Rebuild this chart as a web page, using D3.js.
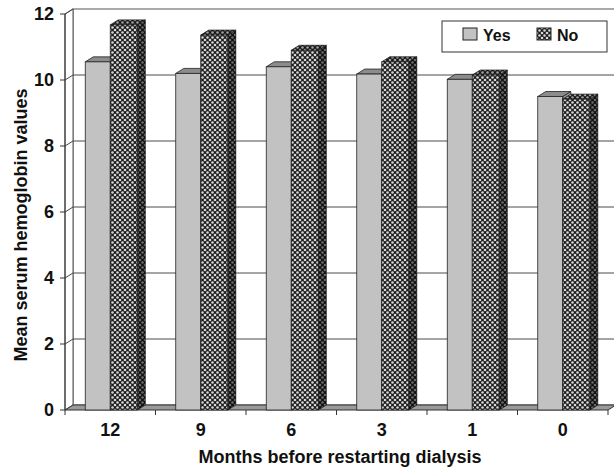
<!DOCTYPE html>
<html>
<head>
<meta charset="utf-8">
<script src="https://cdn.jsdelivr.net/npm/d3@7"></script>
<style>
  body { margin: 0; background: #fff; }
  text { font-family: Arial, "Liberation Sans", sans-serif; font-weight: bold; fill: #111; }
</style>
</head>
<body>
<svg id="chart" width="614" height="469"></svg>
<script>
const categories = ['12', '9', '6', '3', '1', '0']
const yesValues = [10.55, 10.2, 10.4, 10.18, 10.02, 9.5]
const noValues = [11.67, 11.36, 10.9, 10.55, 10.15, 9.42]
const yTicks = [0, 2, 4, 6, 8, 10, 12]
const seriesNames = ['Yes', 'No']

const svg = d3.select('#chart')

// depth offset of the 3d box
var dx = 8,
    dy = -5

const x = d3.scaleBand().domain(categories).range([65, 608])
const y = d3.scaleLinear().domain([0, 12]).range([410, 14])

const defs = svg.append('defs')
const pat = defs.append('pattern')
    .attr('id', 'mesh')
    .attr('patternUnits', 'userSpaceOnUse')
    .attr('width', 5)
    .attr('height', 5)
pat.append('rect').attr('width', 5).attr('height', 5).attr('fill', '#1c1c1c')
pat.selectAll('circle')
    .data([[2.5, 2.5], [0, 0], [5, 0], [0, 5], [5, 5]])
    .enter()
    .append('circle')
    .attr('cx', d => d[0])
    .attr('cy', d => d[1])
    .attr('r', 1.3)
    .attr('fill', '#d8d8d8')

const line = d3.line()

// back wall
svg.append('rect')
    .attr('x', x.range()[0] + dx)
    .attr('y', y(12) + dy)
    .attr('width', 620 - (x.range()[0] + dx))
    .attr('height', y(0) - y(12))
    .attr('fill', '#fff')
    .attr('stroke', '#555')

svg.selectAll('.grid')
    .data(yTicks.slice(1, -1))
    .enter()
    .append('line')
    .attr('class', 'grid')
    .attr('x1', x.range()[0] + dx)
    .attr('x2', 620)
    .attr('y1', d => y(d) + dy)
    .attr('y2', d => y(d) + dy)
    .attr('stroke', '#4a4a4a')
    .attr('stroke-width', 1)

// side wall
svg.append('path')
    .attr('d', line([[65, y(12)], [65 + dx, y(12) + dy], [65 + dx, y(0) + dy], [65, y(0)]]) + 'Z')
    .attr('fill', '#fff')
    .attr('stroke', '#555')

svg.selectAll('.ytick')
    .data(yTicks)
    .enter()
    .append('line')
    .attr('class', 'ytick')
    .attr('x1', 60)
    .attr('x2', 65)
    .attr('y1', d => y(d))
    .attr('y2', d => y(d))
    .attr('stroke', '#333')

svg.selectAll('.diag')
    .data(yTicks.slice(1))
    .enter()
    .append('line')
    .attr('class', 'diag')
    .attr('x1', 65)
    .attr('x2', 65 + dx)
    .attr('y1', d => y(d))
    .attr('y2', d => y(d) + dy)
    .attr('stroke', '#444')

// floor
svg.append('path')
    .attr('d', line([[65, y(0)], [65 + dx, y(0) + dy], [608 + dx, y(0) + dy], [608, y(0)]]) + 'Z')
    .attr('fill', '#9a9a9a')
    .attr('stroke', '#333')

svg.selectAll('.xtick')
    .data(d3.range(categories.length + 1))
    .enter()
    .append('line')
    .attr('class', 'xtick')
    .attr('x1', i => 65 + i * x.step())
    .attr('x2', i => 65 + i * x.step())
    .attr('y1', y(0))
    .attr('y2', y(0) + 5)
    .attr('stroke', '#333')

svg.append('line')
    .attr('x1', 65).attr('x2', 65)
    .attr('y1', y(12)).attr('y2', y(0))
    .attr('stroke', '#333')

// bars
const bars = []
categories.forEach((c, i) => {
    const cx = x(c) + x.bandwidth() / 2
    bars.push({ cat: c, s: 'Yes', v: yesValues[i], x0: cx - 25, x1: cx })
    bars.push({ cat: c, s: 'No', v: noValues[i], x0: cx, x1: cx + 27 })
})

const fills = {
    Yes: { front: '#c2c2c2', top: '#8c8c8c', side: '#9e9e9e' },
    No: { front: 'url(#mesh)', top: 'url(#mesh)', side: 'url(#mesh)' }
}

const g = svg.selectAll('.bar')
    .data(bars)
    .enter()
    .append('g')
    .attr('class', 'bar')

g.append('path')
    .attr('d', d => line([[d.x1, y(d.v)], [d.x1 + dx, y(d.v) + dy], [d.x1 + dx, y(0) + dy], [d.x1, y(0)]]) + 'Z')
    .attr('fill', d => fills[d.s].side)
    .attr('stroke', '#222')
    .attr('stroke-width', 0.8)
g.filter(d => d.s == 'No').append('path')
    .attr('d', d => line([[d.x1, y(d.v)], [d.x1 + dx, y(d.v) + dy], [d.x1 + dx, y(0) + dy], [d.x1, y(0)]]) + 'Z')
    .attr('fill', 'rgba(0,0,0,0.5)')

g.append('path')
    .attr('d', d => line([[d.x0, y(d.v)], [d.x0 + dx, y(d.v) + dy], [d.x1 + dx, y(d.v) + dy], [d.x1, y(d.v)]]) + 'Z')
    .attr('fill', d => fills[d.s].top)
    .attr('stroke', '#222')
    .attr('stroke-width', 0.8)
g.filter(d => d.s == 'No').append('path')
    .attr('d', d => line([[d.x0, y(d.v)], [d.x0 + dx, y(d.v) + dy], [d.x1 + dx, y(d.v) + dy], [d.x1, y(d.v)]]) + 'Z')
    .attr('fill', 'rgba(0,0,0,0.25)')

g.append('rect')
    .attr('x', d => d.x0)
    .attr('y', d => y(d.v))
    .attr('width', d => d.x1 - d.x0)
    .attr('height', d => y(0) - y(d.v))
    .attr('fill', d => fills[d.s].front)
    .attr('stroke', '#222')
    .attr('stroke-width', 0.8)

// tick labels
svg.selectAll('.ylab')
    .data(yTicks)
    .enter()
    .append('text')
    .attr('class', 'ylab')
    .attr('x', 54)
    .attr('y', d => y(d))
    .attr('dy', '0.36em')
    .attr('text-anchor', 'end')
    .style('font-size', '18px')
    .text(d => d)

svg.selectAll('.xlab')
    .data(categories)
    .enter()
    .append('text')
    .attr('class', 'xlab')
    .attr('x', d => x(d) + x.bandwidth() / 2)
    .attr('y', 436)
    .attr('text-anchor', 'middle')
    .style('font-size', '18px')
    .text(d => d)

svg.append('text')
    .attr('x', 340)
    .attr('y', 463)
    .attr('text-anchor', 'middle')
    .style('font-size', '18px')
    .text('Months before restarting dialysis')

svg.append('text')
    .attr('transform', 'translate(27,225) rotate(-90)')
    .attr('text-anchor', 'middle')
    .style('font-size', '18px')
    .text('Mean serum hemoglobin values')

// legend
const legend = svg.append('g')
legend.append('rect')
    .attr('x', 442).attr('y', 21)
    .attr('width', 165).attr('height', 31)
    .attr('fill', '#fff')
    .attr('stroke', '#333')

const item = legend.selectAll('.item')
    .data(seriesNames)
    .enter()
    .append('g')
    .attr('class', 'item')
    .attr('transform', (d, i) => 'translate(' + (463 + i * 74) + ',28)')

item.append('rect')
    .attr('width', 14)
    .attr('height', 12)
    .attr('fill', d => fills[d].front)
    .attr('stroke', '#222')

item.append('text')
    .attr('x', 20)
    .attr('y', 12.5)
    .style('font-size', '16px')
    .text(d => d)
</script>
</body>
</html>
